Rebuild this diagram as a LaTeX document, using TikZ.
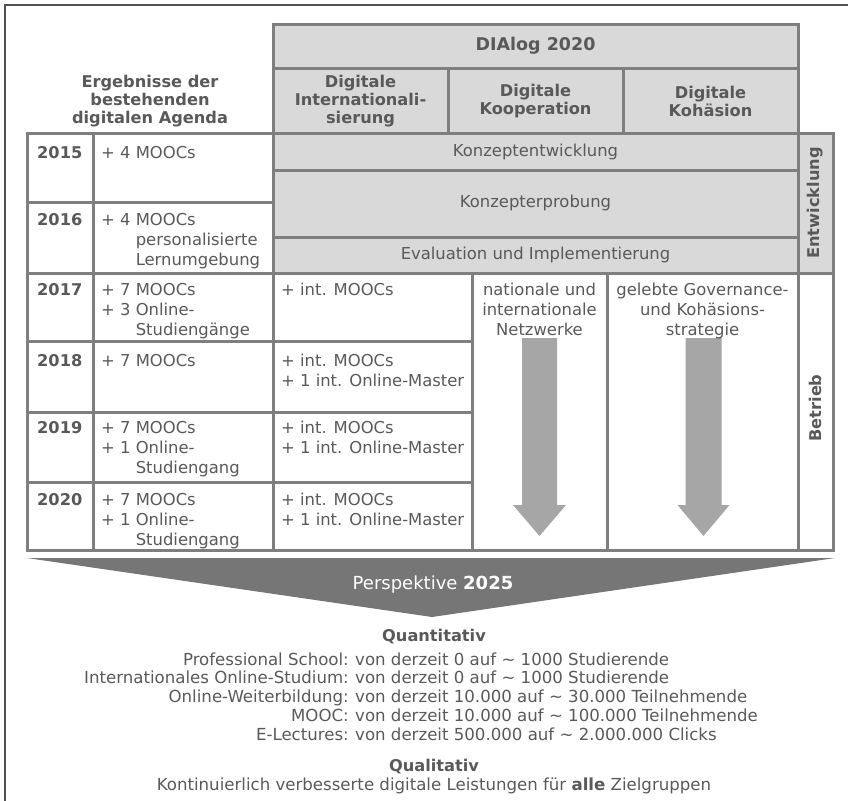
\documentclass[tikz,border=0pt]{standalone}
\usepackage{fontspec}
\setmainfont{DejaVu Sans}
\definecolor{txt}{HTML}{595959}
\definecolor{tline}{HTML}{7F7F7F}
\definecolor{hdr}{HTML}{D9D9D9}
\definecolor{arr}{HTML}{A6A6A6}
\definecolor{chev}{HTML}{767676}
\definecolor{frm}{HTML}{505050}
\newcommand{\mystrut}{\rule{0pt}{12.5pt}}
\begin{document}
\begin{tikzpicture}[x=1pt,y=-1pt,
  tl/.style={draw=tline, line width=3pt},
  reg/.style={text=txt, inner sep=0pt, font=\fontsize{16.4}{20}\selectfont},
  bot/.style={text=txt, inner sep=0pt, font=\fontsize{16.6}{19}\selectfont},
  bld/.style={text=txt, inner sep=0pt, font=\bfseries\fontsize{16.2}{18}\selectfont},
  cellL/.style={reg, anchor=north west, align=left},
  cellC/.style={reg, anchor=north, align=center},
  yr/.style={bld, anchor=north west}]
\useasboundingbox (0,0) rectangle (848,800);
% outer frame
\draw[frm, line width=1.5pt] (5,5) rectangle (870,820);
% fills
\fill[hdr] (273,25) rectangle (798,273);
\fill[hdr] (798,133) rectangle (833,273);
% arrows
\fill[arr] (522,338) -- (557,338) -- (557,505) -- (566,505) -- (539.5,536) -- (513,505) -- (522,505) -- cycle;
\fill[arr] (685.5,338) -- (721.5,338) -- (721.5,505) -- (729.5,505) -- (703.5,536) -- (677.5,505) -- (685.5,505) -- cycle;
% header grid
\draw[tl] (273,25) rectangle (798,273);
\draw[tl] (273,68) -- (798,68);
\draw[tl] (448,68) -- (448,133);
\draw[tl] (623,68) -- (623,133);
\draw[tl] (273,170) -- (798,170);
\draw[tl] (273,237) -- (798,237);
% table grid
\draw[tl] (27,133) rectangle (833,550);
\draw[tl] (93,133) -- (93,550);
\draw[tl] (273,133) -- (273,550);
\draw[tl] (798,133) -- (798,550);
\draw[tl] (27,202) -- (273,202);
\draw[tl] (27,273) -- (833,273);
\draw[tl] (27,341) -- (472,341);
\draw[tl] (27,412) -- (472,412);
\draw[tl] (27,482) -- (472,482);
\draw[tl] (472,273) -- (472,550);
\draw[tl] (607,273) -- (607,550);
% chevron
\fill[chev] (27,558) -- (835,558) -- (432,617) -- cycle;
\node[text=white, inner sep=0pt, font=\fontsize{18}{20}\selectfont, anchor=base] (persp) at (433,589) {Perspektive \textbf{2025}};
% header texts
\node[bld, font=\bfseries\fontsize{17.5}{20}\selectfont] (dialog) at (535.5,46) {DIAlog 2020};
\node[bld, align=center] (hint) at (360.5,101) {Digitale\\Internationali-\\sierung};
\node[bld, align=center] (hkoop) at (535.5,101) {Digitale\\Kooperation};
\node[bld, align=center] (hkoh) at (710.5,101) {Digitale\\Kohäsion};
\node[bld, align=center] (herg) at (150,101) {Ergebnisse der\\bestehenden\\digitalen Agenda};
\node[reg] (kentw) at (535.5,152) {Konzeptentwicklung};
\node[reg] (kerpr) at (535.5,203) {Konzepterprobung};
\node[reg] (keval) at (535.5,255) {Evaluation und Implementierung};
\node[bld, rotate=90] (entw) at (815.5,203) {Entwicklung};
\node[bld, rotate=90] (betr) at (815.5,408) {Betrieb};
% years
\node[yr] (y15) at (37,145.5) {\mystrut 2015};
\node[yr] (y16) at (37,212.5) {\mystrut 2016};
\node[yr] (y17) at (37,282.5) {\mystrut 2017};
\node[yr] (y18) at (37,354) {\mystrut 2018};
\node[yr] (y19) at (37,420.5) {\mystrut 2019};
\node[yr] (y20) at (37,492.5) {\mystrut 2020};
% results of existing agenda
\node[cellL] (c15) at (101,145.5) {\mystrut + 4 MOOCs};
\node[cellL] (c16) at (101,212.5) {\mystrut + 4 MOOCs\\\hphantom{+ 4 }personalisierte\\\hphantom{+ 4 }Lernumgebung};
\node[cellL] (c17) at (101,282.5) {\mystrut + 7 MOOCs\\+ 3 Online-\\\hphantom{+ 3 }Studiengänge};
\node[cellL] (c18) at (101,354) {\mystrut + 7 MOOCs};
\node[cellL] (c19) at (101,420.5) {\mystrut + 7 MOOCs\\+ 1 Online-\\\hphantom{+ 1 }Studiengang};
\node[cellL] (c20) at (101,492.5) {\mystrut + 7 MOOCs\\+ 1 Online-\\\hphantom{+ 1 }Studiengang};
% internationalisation column
\node[cellL] (i17) at (281,282.5) {\mystrut + int. MOOCs};
\node[cellL] (i18) at (281,354) {\mystrut + int. MOOCs\\+ 1 int. Online-Master};
\node[cellL] (i19) at (281,420.5) {\mystrut + int. MOOCs\\+ 1 int. Online-Master};
\node[cellL] (i20) at (281,492.5) {\mystrut + int. MOOCs\\+ 1 int. Online-Master};
% networks / governance
\node[cellC] (netz) at (539.5,282.5) {\mystrut nationale und\\internationale\\Netzwerke};
\node[cellC] (gov) at (702.5,282.5) {\mystrut gelebte Governance-\\und Kohäsions-\\strategie};
% perspective text
\node[bld, anchor=base] (quant) at (434,641.5) {Quantitativ};
\node[bot, anchor=base east] (l1) at (349,665) {Professional School:};
\node[bot, anchor=base west] (r1) at (355,665) {von derzeit 0 auf \textasciitilde{} 1000 Studierende};
\node[bot, anchor=base east] (l2) at (349,683.8) {Internationales Online-Studium:};
\node[bot, anchor=base west] (r2) at (355,683.8) {von derzeit 0 auf \textasciitilde{} 1000 Studierende};
\node[bot, anchor=base east] (l3) at (349,702.5) {Online-Weiterbildung:};
\node[bot, anchor=base west] (r3) at (355,702.5) {von derzeit 10.000 auf \textasciitilde{} 30.000 Teilnehmende};
\node[bot, anchor=base east] (l4) at (349,721.3) {MOOC:};
\node[bot, anchor=base west] (r4) at (355,721.3) {von derzeit 10.000 auf \textasciitilde{} 100.000 Teilnehmende};
\node[bot, anchor=base east] (l5) at (349,740) {E-Lectures:};
\node[bot, anchor=base west] (r5) at (355,740) {von derzeit 500.000 auf \textasciitilde{} 2.000.000 Clicks};
\node[bld, anchor=base] (qual) at (434,771.5) {Qualitativ};
\node[bot, anchor=base] (kont) at (434,790) {Kontinuierlich verbesserte digitale Leistungen für \textbf{alle} Zielgruppen};
\end{tikzpicture}
\end{document}
